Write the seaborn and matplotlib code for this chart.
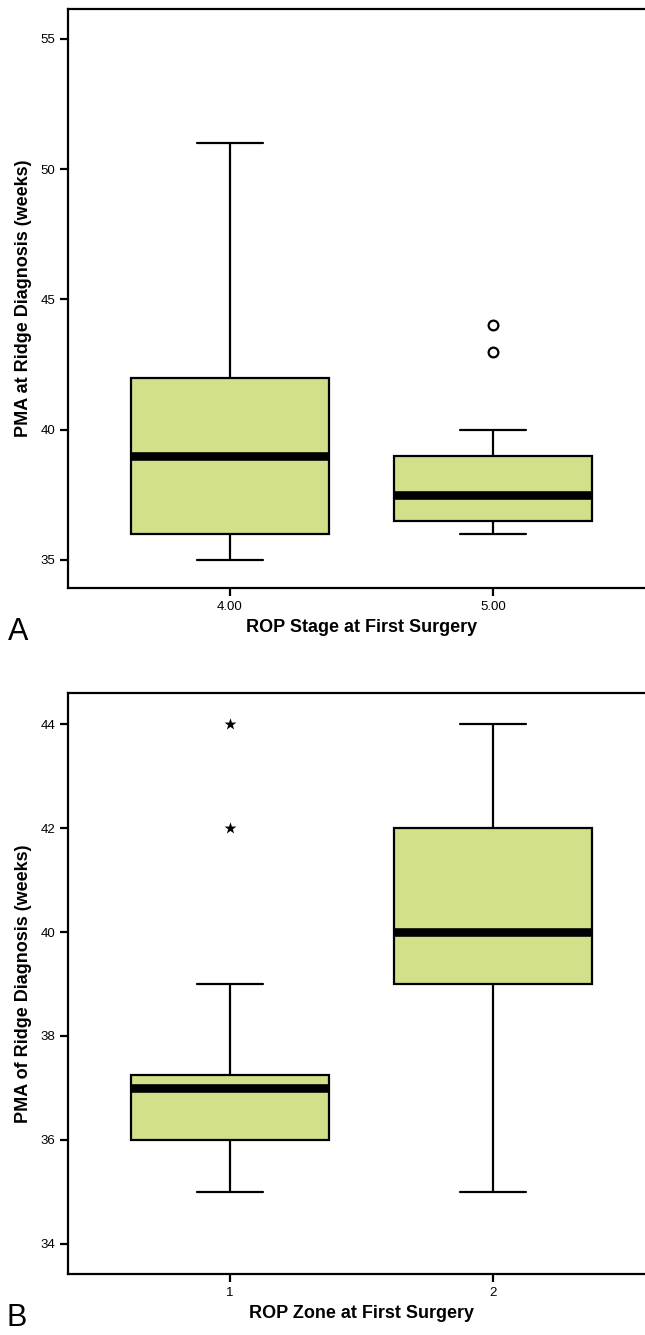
import matplotlib
matplotlib.use('Agg')
import matplotlib.pyplot as plt
import pandas as pd
import seaborn as sns

# ---- data (five-number summaries + outliers) ----
STAGE_CATS = ['4.00', '5.00']
STAGE_MIN = [35, 36]
STAGE_Q1 = [36, 36.5]
STAGE_MED = [39, 37.5]
STAGE_Q3 = [42, 39]
STAGE_MAX = [51, 40]
STAGE_OUT_CAT = ['5.00', '5.00']
STAGE_OUT_VAL = [43, 44]

ZONE_CATS = ['1', '2']
ZONE_MIN = [35, 35]
ZONE_Q1 = [36, 39]
ZONE_MED = [37, 40]
ZONE_Q3 = [37.25, 42]
ZONE_MAX = [39, 44]
ZONE_OUT_CAT = ['1', '1']
ZONE_OUT_VAL = [42, 44]

BOX_COLOR = '#d1e089'
FAMILY = ['Liberation Sans', 'DejaVu Sans']


def summary_frame(cats, mins, q1, med, q3, maxs):
    rows = []
    for i, c in enumerate(cats):
        for v in (mins[i], q1[i], med[i], q3[i], maxs[i]):
            rows.append({'cat': c, 'val': v})
    return pd.DataFrame(rows)


def draw_panel(ax, cats, df, out_cat, out_val, marker, msize, ylim, yticks, xlabel, ylabel):
    sns.boxplot(data=df, x='cat', y='val', order=cats, ax=ax, color=BOX_COLOR,
                saturation=1, width=0.75, linecolor='black', linewidth=1.6,
                showfliers=False, whis=1.5, capwidths=0.25,
                medianprops=dict(linewidth=6.2, color='black', solid_capstyle='butt'))
    odf = pd.DataFrame({'cat': out_cat, 'val': out_val})
    if marker == 'o':
        sns.stripplot(data=odf, x='cat', y='val', order=cats, ax=ax, jitter=False,
                      marker='o', size=msize, color='white', edgecolor='black',
                      linewidth=1.6, zorder=5)
    else:
        sns.stripplot(data=odf, x='cat', y='val', order=cats, ax=ax, jitter=False,
                      marker='*', size=msize, color='black', linewidth=0, zorder=5)
    ax.set_xlim(-0.616, 1.616)
    ax.set_ylim(*ylim)
    ax.set_yticks(yticks)
    ax.set_yticklabels([str(t) for t in yticks])
    ax.set_xlabel(xlabel, fontsize=13, fontweight='bold', family=FAMILY,
                  color='black', labelpad=5)
    ax.set_ylabel(ylabel, fontsize=13, fontweight='bold', family=FAMILY,
                  color='black', labelpad=6)
    ax.tick_params(axis='both', direction='out', length=6, width=1.6,
                   labelsize=9.5, pad=3, color='black', labelcolor='black',
                   bottom=True, left=True, top=False, right=False)
    for lab in ax.get_xticklabels() + ax.get_yticklabels():
        lab.set_family(FAMILY)
    for sp in ax.spines.values():
        sp.set_linewidth(1.6)
        sp.set_color('black')
    ax.grid(False)


sns.set_style('white')
plt.rcParams['font.family'] = FAMILY
plt.rcParams['text.color'] = 'black'

fig = plt.figure(figsize=(6.45, 13.35), dpi=100)
ax_a = fig.add_axes([68 / 645, 1 - 588 / 1335, 587 / 645, 579 / 1335])
ax_b = fig.add_axes([68 / 645, 1 - 1274 / 1335, 587 / 645, 581 / 1335])

stage_df = summary_frame(STAGE_CATS, STAGE_MIN, STAGE_Q1, STAGE_MED, STAGE_Q3, STAGE_MAX)
zone_df = summary_frame(ZONE_CATS, ZONE_MIN, ZONE_Q1, ZONE_MED, ZONE_Q3, ZONE_MAX)

draw_panel(ax_a, STAGE_CATS, stage_df, STAGE_OUT_CAT, STAGE_OUT_VAL, 'o', 7,
           (33.92, 56.15), [35, 40, 45, 50, 55],
           'ROP Stage at First Surgery', 'PMA at Ridge Diagnosis (weeks)')
draw_panel(ax_b, ZONE_CATS, zone_df, ZONE_OUT_CAT, ZONE_OUT_VAL, '*', 9,
           (33.42, 44.6), [34, 36, 38, 40, 42, 44],
           'ROP Zone at First Surgery', 'PMA of Ridge Diagnosis (weeks)')

fig.text(18 / 645, 1 - 632 / 1335, 'A', fontsize=22, ha='center', va='center',
         family=FAMILY, color='black')
fig.text(17 / 645, 1 - 1318 / 1335, 'B', fontsize=22, ha='center', va='center',
         family=FAMILY, color='black')

fig.savefig('out.png', dpi=100, facecolor='white')
